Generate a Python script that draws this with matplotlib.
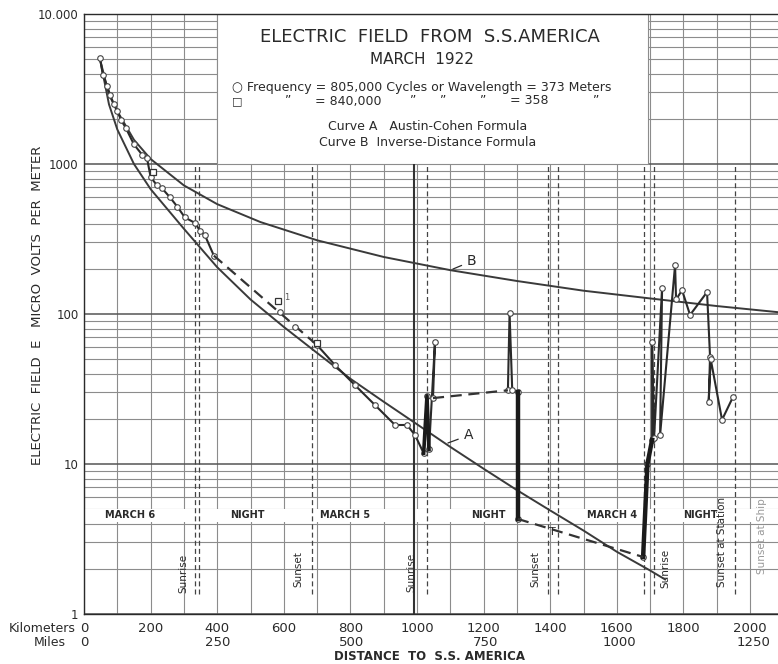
import matplotlib
matplotlib.use("Agg")
import matplotlib.pyplot as plt
from matplotlib.patches import Rectangle
from matplotlib.ticker import LogLocator, NullFormatter

INK = "#2a2a2a"
GRID = "#8c8c8c"
plt.rcParams["font.family"] = ["DejaVu Sans"]

# curve B, inverse-distance formula
B_KM = [48, 75, 100, 150, 200, 300, 400, 530, 700, 900, 1100, 1300, 1500, 1700, 1900, 2100]
B_UV = [5000, 2900, 2250, 1450, 1080, 720, 540, 410, 310, 240, 196, 166, 143, 127, 113, 102]

# curve A, Austin-Cohen formula
A_KM = [48, 75, 100, 150, 200, 300, 400, 500, 600, 700, 800, 900, 1000, 1100,
        1200, 1300, 1400, 1500, 1600, 1700, 1745]
A_UV = [5000, 2500, 1700, 1000, 680, 370, 205, 125, 82, 55, 37, 26, 18.4, 13,
        9.3, 6.7, 4.9, 3.6, 2.6, 1.95, 1.7]

# measured field, 805,000 cycles (solid runs)
OBS1_KM = [48, 57, 70, 78, 90, 100, 112, 125, 150, 175, 189, 200, 219, 234, 258,
           280, 303, 333, 348, 363, 390]
OBS1_UV = [5100, 3900, 3300, 2900, 2500, 2250, 1950, 1750, 1350, 1150, 1100, 820,
           720, 690, 600, 520, 440, 405, 360, 335, 245]
OBS2_KM = [700, 754, 814, 874, 934, 970, 994, 1020, 1030, 1036, 1054, 1048]
OBS2_UV = [62, 45.6, 33.5, 24.7, 18.2, 18.2, 15.6, 11.8, 28.5, 12.5, 65, 27.5]
OBS3_KM = [1273, 1278, 1286, 1303, 1303]
OBS3_UV = [31, 101, 31, 30, 4.3]
OBS4_KM = [1679, 1692, 1706, 1706, 1712, 1736, 1730, 1775, 1778, 1796, 1820,
           1871, 1880, 1876, 1882, 1916, 1949]
OBS4_UV = [2.4, 10, 14.5, 65, 15, 149, 15.6, 212, 125, 144, 98.5, 140, 52, 26,
           50, 19.7, 28]

# dashed bridges across gaps in the record
GAP1_KM = [390, 700]
GAP1_UV = [245, 62]
GAP2_KM = [1048, 1273]
GAP2_UV = [27.5, 31]
GAP3_KM = [1303, 1679]
GAP3_UV = [4.3, 2.4]

# isolated readings on the first dashed bridge
PTS_KM = [589, 634]
PTS_UV = [103, 82]

# 840,000 cycles readings (squares)
SQ_KM = [207, 583, 700]
SQ_UV = [880, 123, 64]

# sunrise / sunset lines
EVENT_DASHED = [332, 344, 684, 1030, 1394, 1422, 1682, 1712, 1955]
EVENT_SOLID = [990]

KM_TICKS = list(range(0, 2001, 200))
MILES = [0, 250, 500, 750, 1000, 1250]

DAY_LABELS = ["MARCH 6", "NIGHT", "MARCH 5", "NIGHT", "MARCH 4", "NIGHT"]
DAY_KM = [138, 492, 784, 1213, 1586, 1850]

EVENT_TEXT = ["Sunrise", "Sunset", "Sunrise", "Sunset", "Sunrise",
              "Sunset at Station", "Sunset at Ship"]
EVENT_TEXT_KM = [298, 645, 982, 1356, 1746, 1916, 2036]
EVENT_TEXT_Y = [1.85, 2.0, 1.9, 2.0, 2.0, 3.0, 3.3]

W, H = 778, 664
fig = plt.figure(figsize=(W / 100, H / 100), dpi=100, facecolor="white")
ax = fig.add_axes([84 / W, 50 / H, 694 / W, 600 / H])
ax.set_yscale("log")
ax.set_ylim(1, 10000)
ax.set_xlim(0, 694 / 0.333)
ax.set_axisbelow(True)


def px(x, y):
    return x / W, 1 - y / H


# grid
ax.set_xticks(KM_TICKS)
ax.set_xticklabels([str(k) for k in KM_TICKS], fontsize=9.5, color=INK)
ax.set_xticks(range(0, 2100, 100), minor=True)
ax.set_yticks([1, 10, 100, 1000, 10000])
ax.set_yticklabels(["1", "10", "100", "1000", "10.000"], fontsize=8.5, color=INK)
ax.yaxis.set_minor_locator(LogLocator(base=10, subs=range(2, 10)))
ax.yaxis.set_minor_formatter(NullFormatter())
ax.grid(which="both", axis="x", color=GRID, lw=0.8)
ax.grid(which="minor", axis="y", color=GRID, lw=0.8)
ax.grid(which="major", axis="y", color="#555555", lw=1.1)
ax.tick_params(which="both", length=0)
ax.tick_params(axis="x", pad=6)
ax.tick_params(axis="y", pad=4)
for s in ["top", "left", "bottom"]:
    ax.spines[s].set_color(INK)
    ax.spines[s].set_linewidth(1.0)
ax.spines["right"].set_visible(False)

# title panel and day strip hide the grid
ax.add_patch(Rectangle((400, 1000), 1295, 9000, facecolor="white",
                       edgecolor=GRID, lw=0.8, zorder=1))
ax.add_patch(Rectangle((0, 4.12), 2200, 0.86, facecolor="white",
                       edgecolor="none", zorder=1))

# sunrise / sunset lines
ax.vlines(EVENT_DASHED, 1.35, 1000, colors="#444444", linestyles=(0, (4, 2.5)),
          lw=0.9, zorder=2)
ax.vlines(EVENT_SOLID, 1.0, 1000, colors="#333333", lw=1.5, zorder=2)

for lab, k in zip(DAY_LABELS, DAY_KM):
    ax.text(k, 4.55, lab, ha="center", va="center", fontsize=7, fontweight="bold",
            color=INK, zorder=3)
for lab, k, y in zip(EVENT_TEXT, EVENT_TEXT_KM, EVENT_TEXT_Y):
    ax.text(k, y, lab, rotation=90, ha="center", va="center", fontsize=7.5,
            color="#999999" if "Ship" in lab else INK, zorder=3)

# formula curves
ax.plot(B_KM, B_UV, color="#3a3a3a", lw=1.4, zorder=4)
ax.plot(A_KM, A_UV, color="#3a3a3a", lw=1.4, zorder=4)

# measured field
mk = dict(marker="o", ms=4, mfc="white", mec="#444444", mew=0.8)
for xs, ys in [(OBS1_KM, OBS1_UV), (OBS2_KM, OBS2_UV), (OBS3_KM, OBS3_UV),
               (OBS4_KM, OBS4_UV)]:
    ax.plot(xs, ys, color="#2a2a2a", lw=1.5, zorder=5, **mk)
ax.plot(OBS3_KM[-2:], OBS3_UV[-2:], color="#1a1a1a", lw=3.2, zorder=5)
ax.plot(OBS4_KM[:3], OBS4_UV[:3], color="#1a1a1a", lw=3.2, zorder=5)
ax.plot(OBS2_KM[7:10], OBS2_UV[7:10], color="#1a1a1a", lw=2.6, zorder=5)
for xs, ys in [(GAP1_KM, GAP1_UV), (GAP2_KM, GAP2_UV), (GAP3_KM, GAP3_UV)]:
    ax.plot(xs, ys, color="#333333", lw=1.6, ls=(0, (5, 3)), zorder=5)
ax.plot(PTS_KM, PTS_UV, ls="none", zorder=6, **mk)
ax.plot(SQ_KM, SQ_UV, ls="none", marker="s", ms=4, mfc="white", mec="#333333",
        mew=0.9, zorder=6)

# curve tags
ax.annotate("A", xy=(1085, 13.6), xytext=(1140, 15.5), fontsize=10, color=INK,
            va="center", arrowprops=dict(arrowstyle="-", color=INK, lw=0.9), zorder=6)
ax.annotate("B", xy=(1100, 196), xytext=(1150, 225), fontsize=10, color=INK,
            va="center", arrowprops=dict(arrowstyle="-", color=INK, lw=0.9), zorder=6)
ax.text(1408, 3.5, "T", fontsize=8, color=INK, ha="center", va="center", zorder=6)
ax.text(600, 128, "1", fontsize=6, color="#555555", ha="left", va="center", zorder=6)

# miles row
for m in MILES:
    ax.text(m * 1.609, -29 / 600, str(m), transform=ax.get_xaxis_transform(),
            ha="center", va="center", fontsize=9.5, color=INK)
fig.text(*px(76, 628), "Kilometers", ha="right", va="center", fontsize=9, color=INK)
fig.text(*px(66, 643), "Miles", ha="right", va="center", fontsize=9, color=INK)

fig.text(*px(430, 656), "DISTANCE  TO  S.S. AMERICA", ha="center", va="center",
         fontsize=8.5, fontweight="bold", color=INK)
fig.text(*px(38, 305), "ELECTRIC  FIELD  E   MICRO  VOLTS  PER  METER", rotation=90,
         ha="center", va="center", fontsize=9.5, color=INK)

# title panel text
fig.text(*px(430, 37), "ELECTRIC  FIELD  FROM  S.S.AMERICA", ha="center", va="center",
         fontsize=13, color=INK)
fig.text(*px(422, 60), "MARCH  1922", ha="center", va="center", fontsize=11, color=INK)
fig.text(*px(232, 87), "\u25cb Frequency = 805,000 Cycles or Wavelength = 373 Meters",
         ha="left", va="center", fontsize=9, color=INK)
fig.text(*px(232, 101), "\u25a1", ha="left", va="center", fontsize=8, color=INK)
for x, s in [(285, "\u201d"), (315, "= 840,000"), (410, "\u201d"), (440, "\u201d"),
             (480, "\u201d"), (510, "= 358"), (593, "\u201d")]:
    fig.text(*px(x, 101), s, ha="left", va="center", fontsize=9, color=INK)
fig.text(*px(428, 127), "Curve A   Austin-Cohen Formula", ha="center", va="center",
         fontsize=9, color=INK)
fig.text(*px(428, 142), "Curve B  Inverse-Distance Formula", ha="center", va="center",
         fontsize=9, color=INK)

fig.savefig("out.png", dpi=100, facecolor="white")
